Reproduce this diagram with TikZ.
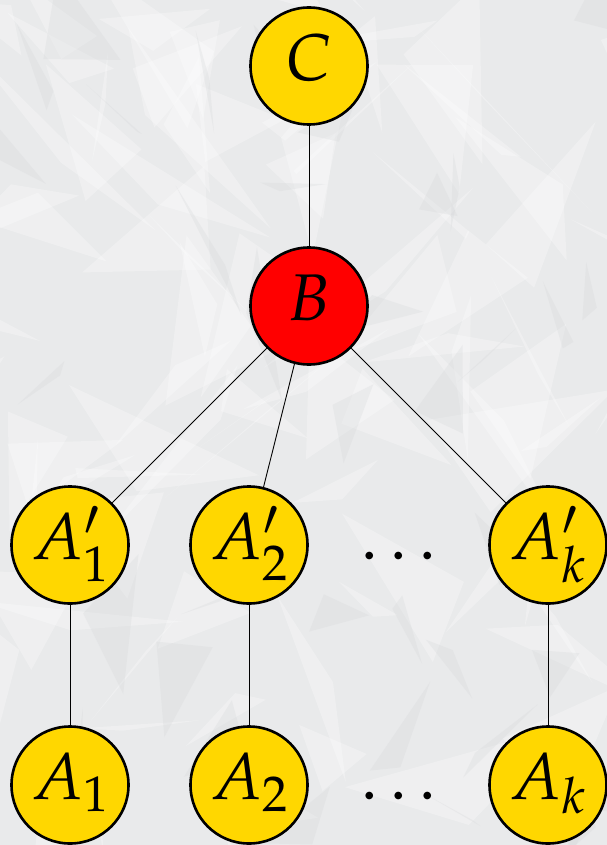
\documentclass[tikz,border=0pt]{standalone}
\usepackage{mathpazo}
\definecolor{nodeyellow}{HTML}{FFD700}
\definecolor{nodered}{HTML}{FF0000}
\definecolor{paper}{HTML}{E9EAEB}
\definecolor{crease}{HTML}{D2D4D6}

\begin{document}
\begin{tikzpicture}[x=1pt,y=-1pt,
  vertex/.style={circle, draw=black, line width=2.6pt, minimum size=117pt,
    inner sep=0pt, fill=nodeyellow, font=\fontsize{66}{79}\selectfont,
    text height=45pt, text depth=16pt},
  hot/.style={vertex, fill=nodered},
  gap/.style={inner sep=0pt, font=\fontsize{66}{79}\selectfont,
    text height=45pt, text depth=16pt},
  link/.style={draw=black, line width=0.9pt}]

  % crumpled paper backdrop
  \useasboundingbox (0,0) rectangle (607,845);
  \fill[paper] (0,0) rectangle (607,845);
  \begin{scope}
    \clip (0,0) rectangle (607,845);
    \pgfmathsetseed{11}
    \foreach \i in {1,...,90}{
      \fill[white, opacity=0.28]
        (rnd*607, rnd*845) -- ++(rand*130, rand*130) -- ++(rand*130, rand*130) -- cycle;
    }
    \foreach \i in {1,...,40}{
      \fill[crease, opacity=0.25]
        (rnd*607, rnd*845) -- ++(rand*70, rand*90) -- ++(rand*50, rand*90) -- cycle;
    }
  \end{scope}

  % nodes
  \node[vertex] (c)  at (309,66)  {$C$};
  \node[hot]    (b)  at (309,306) {$B$};
  \node[vertex] (p1) at (70,545)  {$A'_1$};
  \node[vertex] (p2) at (249,545) {$A'_2$};
  \node[gap]    (pd) at (399,545) {$\ldots$};
  \node[vertex] (pk) at (548,545) {$A'_k$};
  \node[vertex] (a1) at (70,785)  {$A_1$};
  \node[vertex] (a2) at (249,785) {$A_2$};
  \node[gap]    (ad) at (399,785) {$\ldots$};
  \node[vertex] (ak) at (548,785) {$A_k$};

  % connectors
  \draw[link] (c) -- (b);
  \draw[link] (b) -- (p1);
  \draw[link] (b) -- (p2);
  \draw[link] (b) -- (pk);
  \draw[link] (p1) -- (a1);
  \draw[link] (p2) -- (a2);
  \draw[link] (pk) -- (ak);
\end{tikzpicture}
\end{document}
